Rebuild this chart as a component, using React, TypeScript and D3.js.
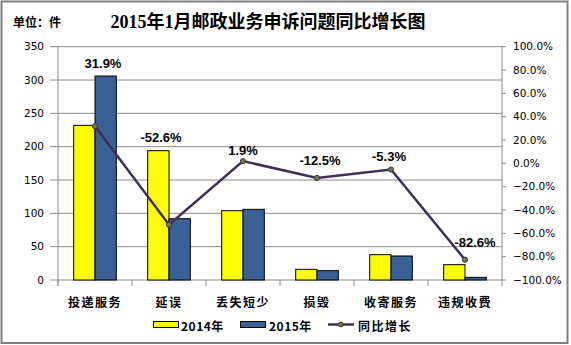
import React from "react";
import * as d3 from "d3";

const categories = ["投递服务", "延误", "丢失短少", "损毁", "收寄服务", "违规收费"];
const values2014 = [232, 194, 104, 16, 38, 23];
const values2015 = [306, 92, 106, 14, 36, 4];
const growth = [0.319, -0.526, 0.019, -0.125, -0.053, -0.826];
const growthLabels = ["31.9%", "-52.6%", "1.9%", "-12.5%", "-5.3%", "-82.6%"];
const leftTicks = [0, 50, 100, 150, 200, 250, 300, 350];
const rightTicks = [-1, -0.8, -0.6, -0.4, -0.2, 0, 0.2, 0.4, 0.6, 0.8, 1];
const seriesNames = ["2014年", "2015年", "同比增长"];

// label offsets (layout, not data)
const labelOffsets: [number, number][] = [
  [8, -63],
  [-8, -87],
  [0, -11],
  [3, -17],
  [-2, -13],
  [10, -17],
];

const W = 571;
const H = 345;
const M = { left: 58, right: 502, top: 46.7, bottom: 280 };

export default function App() {
  const x = d3.scaleBand<string>().domain(categories).range([M.left, M.right]).paddingInner(0).paddingOuter(0);
  const yL = d3.scaleLinear().domain([0, 350]).range([M.bottom, M.top]);
  const yR = d3.scaleLinear().domain([-1, 1]).range([M.bottom, M.top]);
  const bw = x.bandwidth();
  const barW = bw * 0.288;
  const pct = d3.format(".1%");
  const line = d3
    .line<number>()
    .x((_, i) => (x(categories[i]) as number) + bw / 2)
    .y((d) => yR(d));

  const gridColor = "#8c8c8c";
  const yellow = "#FFFF00";
  const blue = "#3A6195";
  const lineColor = "#3F2F58";
  const markerFill = "#6E7F3C";

  return (
    <svg
      width={W}
      height={H}
      style={{ position: "absolute", left: 0, top: 0, background: "#fff" }}
      fontFamily="'DejaVu Sans', Verdana, sans-serif"
    >
      <rect x={1.5} y={1.5} width={566} height={341.5} fill="#fff" stroke="#808080" strokeWidth={2} />
      {/* title */}
      <text x={268} y={28} textAnchor="middle" fontSize={18} fontWeight="bold" fontFamily="'Liberation Serif', 'Noto Sans CJK SC', serif" fill="#000">
        2015年1月邮政业务申诉问题同比增长图
      </text>
      <text x={13} y={27} fontSize={12} fontWeight="bold" fontFamily="'Noto Sans CJK SC', sans-serif" fill="#000">
        单位：件
      </text>
      {/* gridlines */}
      {leftTicks.map((t) => (
        <g key={"l" + t}>
          <line x1={M.left - 8} x2={M.right} y1={yL(t)} y2={yL(t)} stroke={gridColor} strokeWidth={1} />
          <text x={M.left - 14} y={yL(t)} dy="0.35em" textAnchor="end" fontSize={10.5} fill="#000">
            {t}
          </text>
        </g>
      ))}
      {/* left axis */}
      <line x1={M.left} x2={M.left} y1={M.top} y2={M.bottom + 6} stroke={gridColor} strokeWidth={1} />
      {/* right axis */}
      <line x1={M.right} x2={M.right} y1={M.top} y2={M.bottom + 6} stroke={gridColor} strokeWidth={1} />
      {rightTicks.map((t) => (
        <g key={"r" + t}>
          <line x1={M.right} x2={M.right + 4} y1={yR(t)} y2={yR(t)} stroke={gridColor} />
          <text x={M.right + 11} y={yR(t)} dy="0.35em" textAnchor="start" fontSize={10.5} fill="#000">
            {pct(t)}
          </text>
        </g>
      ))}
      {/* category ticks */}
      {categories.map((c, i) => (
        <line key={"ct" + i} x1={(x(c) as number)} x2={(x(c) as number)} y1={M.bottom} y2={M.bottom + 6} stroke={gridColor} />
      ))}
      {/* bars */}
      {categories.map((c, i) => {
        const cx = (x(c) as number) + bw / 2;
        return (
          <g key={"b" + i}>
            <rect x={cx - barW} y={yL(values2014[i])} width={barW} height={M.bottom - yL(values2014[i])} fill={yellow} stroke="#000" strokeWidth={1} />
            <rect x={cx} y={yL(values2015[i])} width={barW} height={M.bottom - yL(values2015[i])} fill={blue} stroke="#000" strokeWidth={1} />
          </g>
        );
      })}
      {/* line */}
      <path d={line(growth) || ""} fill="none" stroke={lineColor} strokeWidth={2.5} />
      {growth.map((g, i) => (
        <circle key={"m" + i} cx={(x(categories[i]) as number) + bw / 2} cy={yR(g)} r={2.6} fill={markerFill} stroke={lineColor} strokeWidth={1} />
      ))}
      {growth.map((g, i) => (
        <text
          key={"gl" + i}
          x={(x(categories[i]) as number) + bw / 2 + labelOffsets[i][0]}
          y={yR(g) + labelOffsets[i][1]}
          dy="0.35em"
          textAnchor="middle"
          fontSize={13}
          fontWeight="bold"
          fontFamily="'Liberation Sans', Arial, sans-serif"
          fill="#000"
        >
          {growthLabels[i]}
        </text>
      ))}
      {/* category labels */}
      {categories.map((c, i) => (
        <text
          key={"cl" + i}
          x={(x(c) as number) + bw / 2}
          y={303}
          dy="0.35em"
          textAnchor="middle"
          fontSize={12}
          fontWeight="bold"
          letterSpacing={1.5}
          fontFamily="'Noto Sans CJK SC', sans-serif"
          fill="#000"
        >
          {c}
        </text>
      ))}
      {/* legend */}
      <g fontSize={12} fontWeight="bold" fontFamily="'Noto Sans CJK SC', sans-serif">
        <rect x={153.5} y={321.5} width={25} height={6} fill={yellow} stroke="#000" strokeWidth={1} />
        <text x={181} y={327} dy="0.35em" letterSpacing={0.5}>{seriesNames[0]}</text>
        <rect x={240.5} y={321.5} width={25} height={6} fill={blue} stroke="#000" strokeWidth={1} />
        <text x={269} y={327} dy="0.35em" letterSpacing={0.5}>{seriesNames[1]}</text>
        <line x1={328} x2={354} y1={324.5} y2={324.5} stroke={lineColor} strokeWidth={2.5} />
        <circle cx={341} cy={324.5} r={2.4} fill={markerFill} stroke={lineColor} strokeWidth={1} />
        <text x={358} y={327} dy="0.35em" letterSpacing={1.5}>{seriesNames[2]}</text>
      </g>
    </svg>
  );
}
